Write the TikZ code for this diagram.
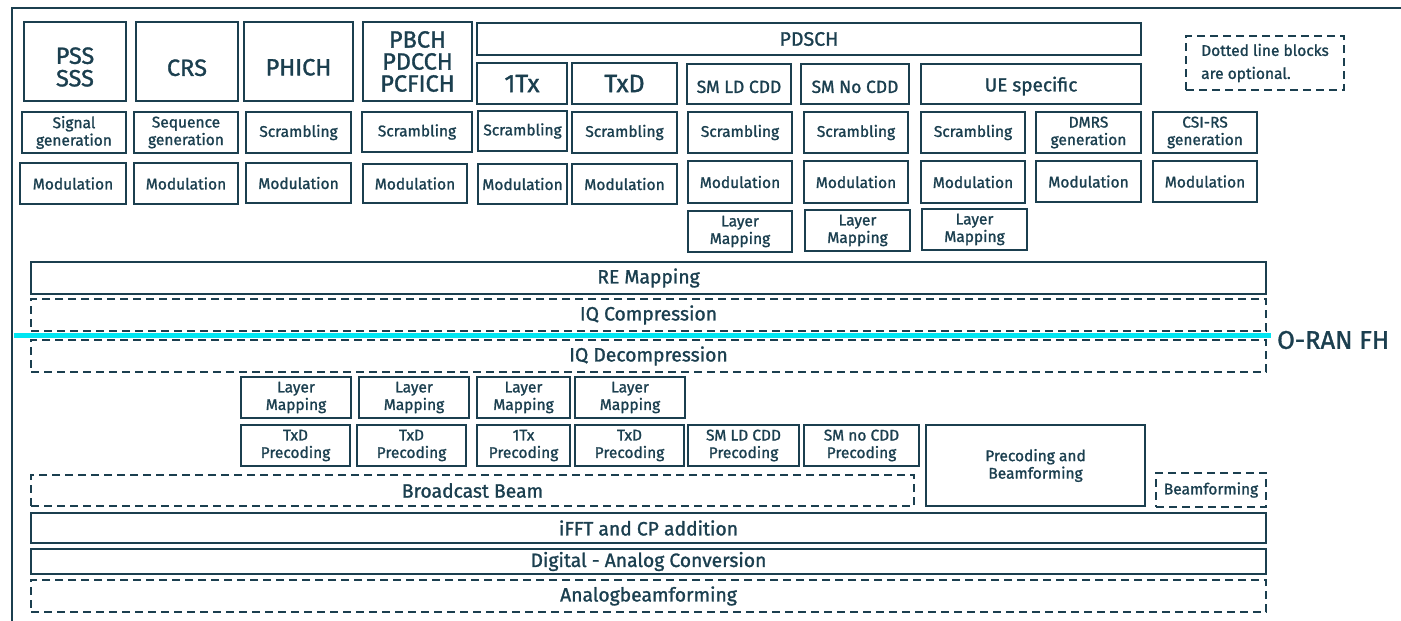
\documentclass[tikz,border=0pt]{standalone}
\usepackage{fontspec}
\setmainfont{Fira Sans}[FakeBold=1.3]
\definecolor{ink}{HTML}{1B3F4F}
\definecolor{fh}{HTML}{00E6F2}
\newcommand{\fs}[2]{\fontsize{#1pt}{#2pt}\selectfont}
\newcommand{\mybox}[7]{\node[#1, minimum width={#4-#2}, minimum height={#5-#3}] (#6) at ({(#2+#4)/2},{(#3+#5)/2}) {#7};}
\begin{document}
\begin{tikzpicture}[x=1pt,y=-1pt,
  box/.style={draw=ink, line width=2.6pt, inner sep=0pt, align=center, text=ink, font=\fs{15.5}{17.5}},
  dbox/.style={box, dash pattern=on 8pt off 5pt},
  big/.style={font=\fs{23.5}{22}},
  mid/.style={font=\fs{19.5}{20}},
  wide/.style={font=\fs{19.3}{20}}]
\useasboundingbox (0,0) rectangle (1401,621);
% frame
\coordinate (fa) at (12,621);
\coordinate (fb) at (12,8);
\coordinate (fc) at (1401,8);
\draw[ink, line width=2pt] (fa) -- (fb) -- (fc);
% row 1
\mybox{box,big}{24}{22}{126}{101}{pss}{}
\node[inner sep=0pt, align=center, text=ink, font=\fs{23.5}{22.5}] (psstext) at (75,67) {PSS\\SSS};
\mybox{box,big,text height=29pt}{136}{22}{238}{101}{crs}{CRS}
\mybox{box,big,text height=28pt}{244}{22}{353}{101}{phich}{PHICH}
\mybox{box,big}{363}{22}{472}{101}{pbch}{PBCH\\PDCCH\\PCFICH}
\mybox{box,mid}{477}{23}{1141}{55}{pdsch}{PDSCH}
\mybox{box,font=\fs{25}{24}}{477}{63}{567}{104}{tx1}{1Tx}
\mybox{box,font=\fs{25}{24}}{572}{63}{677}{104}{txd}{TxD}
\mybox{box,font=\fs{17.5}{20},text height=18pt}{687}{64}{791}{104}{smld}{SM LD CDD}
\mybox{box,font=\fs{17.5}{20},text height=18pt}{801}{64}{909}{104}{smno}{SM No CDD}
\mybox{box,font=\fs{19}{20},text height=19pt}{921}{64}{1141}{104}{ue}{UE specific}
\mybox{dbox,font=\fs{15.5}{23},align=left}{1186}{36}{1344}{90}{legend}{Dotted line blocks\\are optional.}
% row 2
\mybox{box}{22}{112}{126}{153}{sig}{Signal\\generation}
\mybox{box}{134}{112}{238}{153}{seq}{Sequence\\generation}
\mybox{box}{246}{112}{351}{153}{scrA}{Scrambling}
\mybox{box}{362}{112}{472}{152}{scrB}{Scrambling}
\mybox{box}{478}{111}{567}{151}{scrC}{Scrambling}
\mybox{box}{572}{112}{677}{153}{scrD}{Scrambling}
\mybox{box}{688}{112}{792}{153}{scrE}{Scrambling}
\mybox{box}{804}{112}{908}{153}{scrF}{Scrambling}
\mybox{box}{921}{112}{1025}{153}{scrG}{Scrambling}
\mybox{box}{1036}{112}{1141}{153}{dmrs}{DMRS\\generation}
\mybox{box}{1153}{112}{1257}{153}{csi}{CSI-RS\\generation}
% row 3
\mybox{box}{20}{163}{126}{204}{modA}{Modulation}
\mybox{box}{134}{163}{238}{204}{modB}{Modulation}
\mybox{box}{246}{163}{351}{203}{modC}{Modulation}
\mybox{box}{363}{164}{467}{203}{modD}{Modulation}
\mybox{box}{478}{164}{567}{204}{modE}{Modulation}
\mybox{box}{572}{164}{677}{204}{modF}{Modulation}
\mybox{box}{688}{161}{792}{203}{modG}{Modulation}
\mybox{box}{804}{161}{908}{203}{modH}{Modulation}
\mybox{box}{921}{161}{1025}{203}{modI}{Modulation}
\mybox{box}{1036}{161}{1141}{202}{modJ}{Modulation}
\mybox{box}{1153}{161}{1257}{202}{modK}{Modulation}
% row 4
\mybox{box}{688}{211}{792}{252}{lmA}{Layer\\Mapping}
\mybox{box}{805}{210}{910}{251}{lmB}{Layer\\Mapping}
\mybox{box}{922}{209}{1027}{250}{lmC}{Layer\\Mapping}
% wide layers
\mybox{box,wide}{31}{262}{1266}{294}{re}{RE Mapping}
\mybox{dbox,wide}{31}{299}{1266}{331}{iqc}{IQ Compression}
\mybox{dbox,wide}{31}{340}{1266}{372}{iqd}{IQ Decompression}
\coordinate (fhL) at (14,335);
\coordinate (fhR) at (1271,335);
\draw[fh, line width=5pt] (fhL) -- (fhR);
\node[anchor=west, inner sep=0pt, text=ink, font=\fs{25.5}{24}] (oran) at (1277,340) {O-RAN FH};
% lower layer mapping
\mybox{box}{241}{377}{351}{418}{lmD}{Layer\\Mapping}
\mybox{box}{359}{377}{469}{418}{lmE}{Layer\\Mapping}
\mybox{box}{477}{377}{570}{418}{lmF}{Layer\\Mapping}
\mybox{box}{575}{377}{685}{418}{lmG}{Layer\\Mapping}
% precoding
\mybox{box}{241}{425}{350}{466}{prA}{TxD\\Precoding}
\mybox{box}{357}{425}{466}{466}{prB}{TxD\\Precoding}
\mybox{box}{477}{425}{570}{466}{prC}{1Tx\\Precoding}
\mybox{box}{575}{425}{684}{466}{prD}{TxD\\Precoding}
\mybox{box}{688}{425}{799}{466}{prE}{SM LD CDD\\Precoding}
\mybox{box}{804}{425}{919}{466}{prF}{SM no CDD\\Precoding}
\mybox{box}{926}{425}{1145}{506}{pb}{Precoding and\\Beamforming}
\mybox{dbox,wide}{31}{475}{914}{506}{bcast}{Broadcast Beam}
\mybox{dbox}{1156}{473}{1266}{507}{bf}{Beamforming}
\mybox{box,wide}{31}{513}{1266}{543}{ifft}{iFFT and CP addition}
\mybox{box,wide}{31}{549}{1266}{574}{dac}{Digital - Analog Conversion}
\mybox{dbox,wide}{31}{580}{1266}{612}{abf}{Analogbeamforming}
\end{tikzpicture}
\end{document}
